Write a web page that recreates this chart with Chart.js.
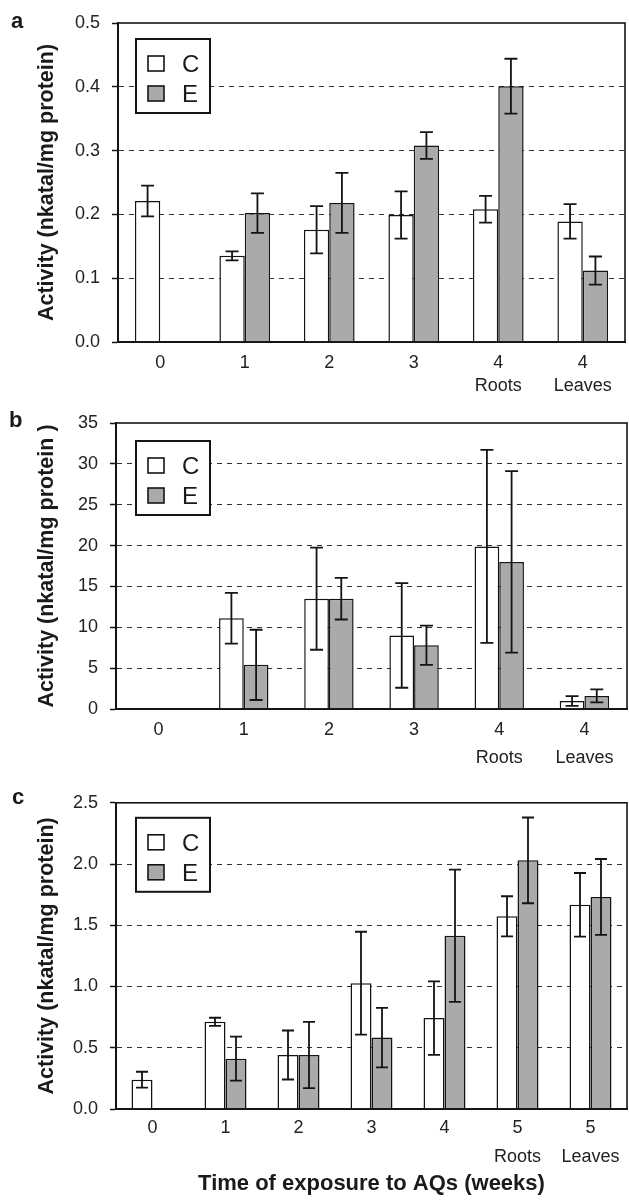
<!DOCTYPE html>
<html>
<head>
<meta charset="utf-8">
<script src="https://cdn.jsdelivr.net/npm/chart.js@4"></script>
<style>
  html, body { margin: 0; padding: 0; background: #ffffff; }
  #page { position: relative; width: 629px; height: 1201px; overflow: hidden; background: #ffffff; }
  canvas { position: absolute; left: 0; }
  .plabel { position: absolute; font-family: "Liberation Sans", Arial, sans-serif; font-weight: bold; font-size: 22px; color: #1a1a1a; line-height: 1; }
</style>
</head>
<body>
<div id="page">
  <canvas id="chartA" width="629" height="400" style="top:0px;width:629px;height:400px"></canvas>
  <canvas id="chartB" width="629" height="400" style="top:390px;width:629px;height:400px"></canvas>
  <canvas id="chartC" width="629" height="421" style="top:780px;width:629px;height:421px"></canvas>
  <div class="plabel" style="left:11px;top:10px">a</div>
  <div class="plabel" style="left:9px;top:409px">b</div>
  <div class="plabel" style="left:12px;top:786px">c</div>
</div>
<script>
// ---------------- DATA ----------------
// Panel a
const catsA = [['0'], ['1'], ['2'], ['3'], ['4', 'Roots'], ['4', 'Leaves']];
const controlA = [0.221, 0.135, 0.176, 0.199, 0.208, 0.189];
const controlErrA = [0.024, 0.007, 0.037, 0.037, 0.021, 0.027];
const exposedA = [null, 0.202, 0.218, 0.308, 0.401, 0.112];
const exposedErrA = [null, 0.031, 0.047, 0.021, 0.043, 0.022];
const yTicksA = [0.0, 0.1, 0.2, 0.3, 0.4, 0.5];
const yLabelsA = ['0.0', '0.1', '0.2', '0.3', '0.4', '0.5'];

// Panel b
const catsB = [['0'], ['1'], ['2'], ['3'], ['4', 'Roots'], ['4', 'Leaves']];
const controlB = [null, 11.1, 13.5, 9.0, 19.9, 0.98];
const controlErrB = [null, 3.1, 6.25, 6.4, 11.8, 0.59];
const exposedB = [null, 5.4, 13.5, 7.8, 18.0, 1.6];
const exposedErrB = [null, 4.3, 2.55, 2.4, 11.1, 0.8];
const yTicksB = [0, 5, 10, 15, 20, 25, 30, 35];
const yLabelsB = ['0', '5', '10', '15', '20', '25', '30', '35'];

// Panel c
const catsC = [['0'], ['1'], ['2'], ['3'], ['4'], ['5', 'Roots'], ['5', 'Leaves']];
const controlC = [0.239, 0.712, 0.441, 1.027, 0.742, 1.573, 1.667];
const controlErrC = [0.065, 0.033, 0.2, 0.42, 0.30, 0.164, 0.26];
const exposedC = [0, 0.411, 0.441, 0.583, 1.414, 2.030, 1.731];
const exposedErrC = [null, 0.18, 0.27, 0.243, 0.54, 0.35, 0.31];
const yTicksC = [0.0, 0.5, 1.0, 1.5, 2.0, 2.5];
const yLabelsC = ['0.0', '0.5', '1.0', '1.5', '2.0', '2.5'];

const seriesNames = ['C', 'E'];
const yTitleA = 'Activity (nkatal/mg protein)';
const yTitleB = 'Activity (nkatal/mg protein )';
const yTitleC = 'Activity (nkatal/mg protein)';
const xTitleC = 'Time of exposure to AQs (weeks)';

// ---------------- STYLE / PLUGINS ----------------
Chart.defaults.font.family = '"Liberation Sans", Arial, sans-serif';
Chart.defaults.color = '#222222';

const INK = '#141414';
const GREY = '#aaaaaa';

const errorBars = {
  id: 'errorBars',
  afterDatasetsDraw(chart, args, opts) {
    const ctx = chart.ctx;
    const ys = chart.scales.y;
    const cap = opts.cap || 6;
    chart.data.datasets.forEach((ds, i) => {
      const meta = chart.getDatasetMeta(i);
      meta.data.forEach((bar, j) => {
        const v = ds.data[j];
        const e = ds.errors ? ds.errors[j] : null;
        if (v == null || e == null) return;
        const x = bar.x;
        const y1 = ys.getPixelForValue(v + e);
        const y2 = ys.getPixelForValue(v - e);
        ctx.save();
        ctx.strokeStyle = INK;
        ctx.lineWidth = 1.8;
        ctx.setLineDash([]);
        ctx.beginPath();
        ctx.moveTo(x, y1); ctx.lineTo(x, y2);
        ctx.moveTo(x - cap, y1); ctx.lineTo(x + cap, y1);
        ctx.moveTo(x - cap, y2); ctx.lineTo(x + cap, y2);
        ctx.stroke();
        ctx.restore();
      });
    });
  }
};

const frameAndLegend = {
  id: 'frameAndLegend',
  afterDraw(chart, args, opts) {
    const ctx = chart.ctx;
    const a = chart.chartArea;
    ctx.save();
    ctx.setLineDash([]);
    ctx.strokeStyle = INK;
    ctx.lineWidth = 1.6;
    ctx.strokeRect(a.left, a.top, a.right - a.left, a.bottom - a.top);
    // legend box
    const bx = a.left + opts.dx, by = a.top + opts.dy, bw = 74, bh = 74;
    ctx.fillStyle = '#ffffff';
    ctx.fillRect(bx, by, bw, bh);
    ctx.lineWidth = 2;
    ctx.strokeRect(bx, by, bw, bh);
    const fills = ['#ffffff', GREY];
    chart.data.datasets.forEach((ds, i) => {
      const sy = by + 17 + i * 30;
      ctx.fillStyle = fills[i];
      ctx.fillRect(bx + 12, sy, 16, 15);
      ctx.lineWidth = 1.6;
      ctx.strokeStyle = INK;
      ctx.strokeRect(bx + 12, sy, 16, 15);
      ctx.fillStyle = '#1a1a1a';
      ctx.font = '24px "Liberation Sans", Arial, sans-serif';
      ctx.textBaseline = 'alphabetic';
      ctx.textAlign = 'left';
      ctx.fillText(ds.label, bx + 46, sy + 7.5 + 8.6);
    });
    ctx.restore();
  }
};

function makeChart(id, cfg) {
  const canvas = document.getElementById(id);
  const H = canvas.height;
  const ticks = cfg.yTicks;
  const yMin = ticks[0], yMax = ticks[ticks.length - 1];
  return new Chart(canvas, {
    type: 'bar',
    data: {
      labels: cfg.cats,
      datasets: [
        { label: seriesNames[0], data: cfg.c, errors: cfg.cErr, backgroundColor: '#ffffff',
          borderColor: INK, borderWidth: 1.5, categoryPercentage: cfg.catPct, barPercentage: 1 },
        { label: seriesNames[1], data: cfg.e, errors: cfg.eErr, backgroundColor: GREY,
          borderColor: INK, borderWidth: 1.5, categoryPercentage: cfg.catPct, barPercentage: 1 }
      ]
    },
    options: {
      responsive: false,
      animation: false,
      devicePixelRatio: 1,
      layout: { padding: { left: 0, top: cfg.area.top, right: 629 - cfg.area.right, bottom: 0 } },
      plugins: {
        legend: { display: false },
        tooltip: { enabled: false },
        errorBars: { cap: cfg.cap },
        frameAndLegend: { dx: cfg.legend.dx, dy: cfg.legend.dy }
      },
      scales: {
        x: {
          type: 'category',
          grid: { display: false, drawTicks: false },
          border: { display: true, color: INK, width: 2 },
          ticks: {
            autoSkip: false, maxRotation: 0, minRotation: 0,
            padding: cfg.xPad,
            color: '#222222',
            font: { size: 18, lineHeight: cfg.xLineHeight + 'px' }
          },
          title: cfg.xTitle ? {
            display: true, text: cfg.xTitle, color: '#1a1a1a',
            font: { size: 22, weight: 'bold' },
            padding: { top: 0, bottom: cfg.xTitlePad }
          } : { display: false },
          afterFit(scale) { scale.height = H - cfg.area.bottom; }
        },
        y: {
          min: yMin, max: yMax,
          afterBuildTicks(scale) { scale.ticks = ticks.map(v => ({ value: v })); },
          ticks: {
            padding: 12,
            color: '#222222',
            font: { size: 18 },
            callback: (v, i) => cfg.yLabels[i]
          },
          grid: {
            drawTicks: true,
            tickLength: 6,
            tickWidth: 1.5,
            tickColor: INK,
            tickBorderDash: [],
            lineWidth: 1,
            color: (c) => (c.index === 0 || c.index === ticks.length - 1) ? 'rgba(0,0,0,0)' : '#333333'
          },
          border: { display: true, color: INK, width: 2, dash: [5, 5] },
          title: {
            display: true, text: cfg.yTitle, color: '#1a1a1a',
            font: { size: 21.5, weight: 'bold' },
            padding: { top: 34, bottom: 0 }
          },
          afterFit(scale) { scale.width = cfg.area.left; }
        }
      }
    },
    plugins: [errorBars, frameAndLegend]
  });
}

makeChart('chartA', {
  cats: catsA, c: controlA, cErr: controlErrA, e: exposedA, eErr: exposedErrA,
  yTicks: yTicksA, yLabels: yLabelsA, yTitle: yTitleA,
  area: { left: 118, top: 23, right: 625, bottom: 342 },
  catPct: 0.6, cap: 6.5, xPad: 10, xLineHeight: 23,
  legend: { dx: 18, dy: 16 }
});
makeChart('chartB', {
  cats: catsB, c: controlB, cErr: controlErrB, e: exposedB, eErr: exposedErrB,
  yTicks: yTicksB, yLabels: yLabelsB, yTitle: yTitleB,
  area: { left: 116, top: 33, right: 627, bottom: 319 },
  catPct: 0.58, cap: 6.5, xPad: 7, xLineHeight: 28,
  legend: { dx: 20, dy: 18 }
});
makeChart('chartC', {
  cats: catsC, c: controlC, cErr: controlErrC, e: exposedC, eErr: exposedErrC,
  yTicks: yTicksC, yLabels: yLabelsC, yTitle: yTitleC,
  area: { left: 116, top: 19, right: 627, bottom: 329 },
  catPct: 0.575, cap: 6, xPad: 5, xLineHeight: 29,
  legend: { dx: 20, dy: 15 },
  xTitle: xTitleC, xTitlePad: 4
});
</script>
</body>
</html>
